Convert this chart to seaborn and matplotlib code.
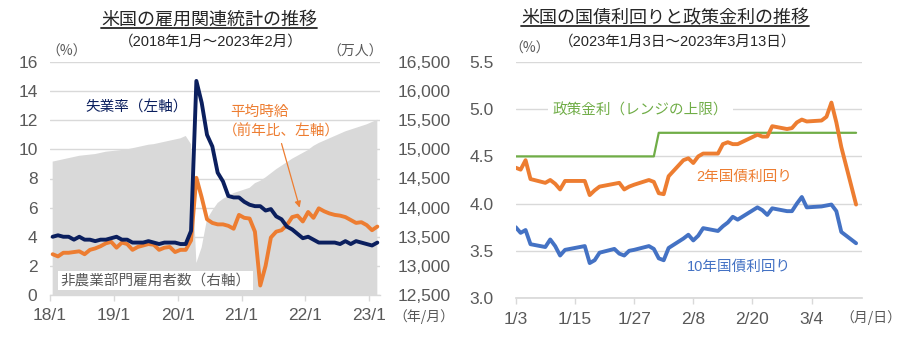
import numpy as np
import pandas as pd
import matplotlib
matplotlib.use("Agg")
import matplotlib.pyplot as plt
import seaborn as sns
from matplotlib.lines import Line2D
from matplotlib.ticker import FixedLocator, FuncFormatter
import matplotlib.dates as mdates

# ---------------- data: left chart (monthly, 2018/1 - 2023/2) ----------------
months = pd.period_range("2018-01", "2023-02", freq="M").astype(str).tolist()
unemployment = [
    4.0, 4.1, 4.0, 4.0, 3.8, 4.0, 3.8, 3.8, 3.7, 3.8, 3.8, 3.9,
    4.0, 3.8, 3.8, 3.6, 3.6, 3.6, 3.7, 3.6, 3.5, 3.6, 3.6, 3.6,
    3.5, 3.5, 4.4, 14.7, 13.2, 11.0, 10.2, 8.4, 7.8, 6.8, 6.7, 6.7,
    6.4, 6.2, 6.1, 6.1, 5.8, 5.9, 5.4, 5.2, 4.7, 4.5, 4.2, 3.9,
    4.0, 3.8, 3.6, 3.6, 3.6, 3.6, 3.5, 3.7, 3.5, 3.7, 3.6, 3.5,
    3.4, 3.6,
]
hourly_wage_yoy = [
    2.8, 2.65, 2.9, 2.9, 2.95, 3.0, 2.8, 3.1, 3.2, 3.35, 3.55, 3.65,
    3.25, 3.6, 3.5, 3.1, 3.3, 3.4, 3.5, 3.45, 3.1, 3.25, 3.3, 2.95,
    3.1, 3.1, 3.75, 8.05, 6.7, 5.2, 4.95, 4.85, 4.85, 4.75, 4.55, 5.5,
    5.3, 5.25, 4.35, 0.65, 2.0, 3.95, 4.35, 4.45, 4.8, 5.35, 5.45, 5.05,
    5.7, 5.3, 5.95, 5.75, 5.6, 5.5, 5.45, 5.35, 5.15, 4.95, 5.0, 4.8,
    4.45, 4.7,
]
payrolls = [
    14790, 14810, 14830, 14850, 14870, 14890, 14900, 14910, 14920, 14940, 14960, 14970,
    14980, 14990, 15000, 15020, 15040, 15060, 15080, 15090, 15110, 15130, 15150, 15170,
    15190, 15230, 15090, 13050, 13320, 13800, 13950, 14080, 14150, 14200, 14250, 14280,
    14310, 14340, 14420, 14460, 14520, 14590, 14660, 14720, 14780, 14840, 14890, 14940,
    14990, 15060, 15110, 15150, 15190, 15230, 15270, 15310, 15340, 15370, 15400, 15430,
    15470, 15510,
]
left_xticklabels = ["18/1", "19/1", "20/1", "21/1", "22/1", "23/1"]

# ---------------- data: right chart (daily, 2023/1/3 - 2023/3/13) ----------------
trade_dates = [
    "2023-01-03", "2023-01-04", "2023-01-05", "2023-01-06", "2023-01-09", "2023-01-10",
    "2023-01-11", "2023-01-12", "2023-01-13", "2023-01-17", "2023-01-18", "2023-01-19",
    "2023-01-20", "2023-01-23", "2023-01-24", "2023-01-25", "2023-01-26", "2023-01-27",
    "2023-01-30", "2023-01-31",
    "2023-02-01", "2023-02-02", "2023-02-03", "2023-02-06", "2023-02-07", "2023-02-08",
    "2023-02-09", "2023-02-10", "2023-02-13", "2023-02-14", "2023-02-15", "2023-02-16",
    "2023-02-17", "2023-02-21", "2023-02-22", "2023-02-23", "2023-02-24", "2023-02-27",
    "2023-02-28",
    "2023-03-01", "2023-03-02", "2023-03-03", "2023-03-06", "2023-03-07", "2023-03-08",
    "2023-03-09", "2023-03-10", "2023-03-13",
]
yield_2y = [
    4.38, 4.36, 4.46, 4.26, 4.22, 4.25, 4.21, 4.15, 4.24, 4.24, 4.09, 4.14,
    4.18, 4.21, 4.22, 4.15, 4.18, 4.20, 4.25, 4.23,
    4.11, 4.10, 4.29, 4.46, 4.48, 4.43, 4.50, 4.53, 4.53, 4.63, 4.65, 4.63,
    4.63, 4.73, 4.71, 4.71, 4.82, 4.79, 4.80,
    4.86, 4.89, 4.87, 4.88, 4.92, 5.07, 4.86, 4.60, 3.99,
]
yield_10y = [
    3.75, 3.69, 3.72, 3.57, 3.54, 3.62, 3.55, 3.45, 3.51, 3.55, 3.37, 3.40,
    3.48, 3.52, 3.47, 3.45, 3.50, 3.51, 3.55, 3.52,
    3.42, 3.40, 3.53, 3.63, 3.67, 3.61, 3.66, 3.74, 3.71, 3.76, 3.80, 3.86,
    3.83, 3.96, 3.93, 3.88, 3.95, 3.92, 3.92,
    4.00, 4.07, 3.96, 3.97, 3.98, 3.99, 3.92, 3.70, 3.58,
]
policy_rate = [4.50] * 20 + [4.75] * 28
right_xticklabels = ["1/3", "1/15", "1/27", "2/8", "2/20", "3/4"]

# ---------------- style ----------------
sns.set_theme(style="white")
plt.rcParams['font.family'] = ['Liberation Sans', 'Noto Sans CJK JP', 'DejaVu Sans']
CJK = ['Noto Sans CJK JP', 'DejaVu Sans']
MIX = ['Liberation Sans', 'Noto Sans CJK JP', 'DejaVu Sans']

NAVY = "#0B1F5E"
ORANGE = "#ED7D31"
BLUE = "#4472C4"
GREEN = "#70AD47"
AREA = "#D9D9D9"
GRID = "#D9D9D9"
TICK = "#595959"
TITLE = "#262626"

fig = plt.figure(figsize=(9, 3.4), dpi=100)

# ---------------- left chart ----------------
axL = fig.add_axes([50 / 900, 1 - 295 / 340, 330 / 900, 233 / 340])
axL2 = axL.twinx()

dfL = pd.DataFrame({"month": months, "unemp": unemployment,
                    "wage": hourly_wage_yoy, "payrolls": payrolls})
dfL["pos"] = np.arange(len(dfL)) + 0.5

axL2.fill_between(dfL["pos"], 0, dfL["payrolls"], color=AREA, lw=0, zorder=2)
axL2.set_ylim(12500, 16500)
axL2.yaxis.set_major_locator(FixedLocator(np.arange(12500, 16501, 500)))
axL2.yaxis.set_major_formatter(FuncFormatter(lambda v, p: f"{int(v):,}"))
axL2.set_axisbelow(True)
axL2.yaxis.grid(True, color=GRID, lw=1)
axL2.xaxis.grid(False)

axL.set_zorder(axL2.get_zorder() + 1)
axL.patch.set_visible(False)
sns.lineplot(data=dfL, x="pos", y="wage", ax=axL, color=ORANGE, lw=2.8)
sns.lineplot(data=dfL, x="pos", y="unemp", ax=axL, color=NAVY, lw=2.8)
axL.set_xlim(0, 62)
axL.set_ylim(0, 16)
axL.yaxis.set_major_locator(FixedLocator(np.arange(0, 17, 2)))
axL.yaxis.set_major_formatter(FuncFormatter(lambda v, p: f"{int(v)}"))
axL.xaxis.set_major_locator(FixedLocator(np.arange(0, 61, 12)))
axL.set_xticklabels(left_xticklabels)
axL.set_xlabel("")
axL.set_ylabel("")
axL.grid(False)

for a in (axL, axL2):
    for s in a.spines.values():
        s.set_visible(False)
axL.spines["bottom"].set_visible(True)
axL.spines["bottom"].set_color(GRID)
axL.spines["bottom"].set_linewidth(1)

axL.tick_params(axis="y", length=0, pad=9, labelsize=12.5, labelcolor=TICK, left=False)
axL2.tick_params(axis="y", length=0, pad=13, labelsize=12.5, labelcolor=TICK, right=False)
axL.tick_params(axis="x", bottom=True, length=4, width=1, color=GRID, pad=5,
                labelsize=12.5, labelcolor=TICK, direction="out")

axL.text(16.2, 12.85, "失業率（左軸）", color=NAVY, fontsize=10.5, family=CJK,
         ha="center", va="center")
axL.text(33.8, 12.55, "平均時給", color=ORANGE, fontsize=10.5, family=CJK,
         ha="left", va="center")
axL.text(32.5, 11.2, "（前年比、左軸）", color=ORANGE, fontsize=10.5, family=CJK,
         ha="left", va="center")
axL.annotate("", xy=(46.9, 6.0), xytext=(43.5, 10.4),
             arrowprops=dict(arrowstyle="-|>", color=ORANGE, lw=0.9,
                             mutation_scale=9, shrinkA=0, shrinkB=0))
axL.text(2.0, 1.0, "非農業部門雇用者数（右軸）", color=TICK, fontsize=10.5, family=CJK,
         ha="left", va="center",
         bbox=dict(boxstyle="square,pad=0.15", fc="white", ec="none"))

# ---------------- right chart ----------------
axR = fig.add_axes([515.7 / 900, 1 - 298 / 340, 346.3 / 900, 236 / 340])
dfR = pd.DataFrame({"date": pd.to_datetime(trade_dates), "y2": yield_2y,
                    "y10": yield_10y, "policy": policy_rate})
sns.lineplot(data=dfR, x="date", y="policy", ax=axR, color=GREEN, lw=1.6)
sns.lineplot(data=dfR, x="date", y="y2", ax=axR, color=ORANGE, lw=2.8)
sns.lineplot(data=dfR, x="date", y="y10", ax=axR, color=BLUE, lw=2.8)

start = pd.Timestamp("2023-01-03")
axR.set_xlim(mdates.date2num(start), mdates.date2num(start) + 70.2)
axR.set_ylim(3.0, 5.5)
tick_dates = [start + pd.Timedelta(days=12 * k) for k in range(6)]
axR.xaxis.set_major_locator(FixedLocator(mdates.date2num(tick_dates)))
axR.set_xticklabels(right_xticklabels)
axR.yaxis.set_major_locator(FixedLocator([3.0, 3.5, 4.0, 4.5, 5.0, 5.5]))
axR.yaxis.set_major_formatter(FuncFormatter(lambda v, p: f"{v:.1f}"))
axR.set_xlabel("")
axR.set_ylabel("")
axR.set_axisbelow(True)
axR.yaxis.grid(True, color=GRID, lw=1)
axR.xaxis.grid(False)
for s in axR.spines.values():
    s.set_visible(False)
axR.spines["bottom"].set_visible(True)
axR.spines["bottom"].set_color(GRID)
axR.tick_params(axis="y", length=0, pad=16, labelsize=12.5, labelcolor=TICK, left=False)
axR.tick_params(axis="x", bottom=True, length=4, width=1, color=GRID, pad=6,
                labelsize=12.5, labelcolor=TICK, direction="out")

d0 = mdates.date2num(start)
axR.text(d0 + 7.5, 4.99, "政策金利（レンジの上限）", color=GREEN, fontsize=10.5,
         family=CJK, ha="left", va="center",
         bbox=dict(boxstyle="square,pad=0.3", fc="white", ec="none"))
axR.text(d0 + 36.6, 4.28, "2年国債利回り", color=ORANGE, fontsize=10.5, family=MIX,
         ha="left", va="center")
axR.text(d0 + 34.8, 3.33, "10年国債利回り", color=BLUE, fontsize=10.5, family=MIX,
         ha="left", va="center")

# ---------------- titles & unit labels ----------------
def ftext(px, py, s, **kw):
    return fig.text(px / 900, 1 - py / 340, s, **kw)

tL = ftext(209, 20, "米国の雇用関連統計の推移", fontsize=13, family=CJK, color=TITLE,
           ha="center", va="center")
tR = ftext(665, 18, "米国の国債利回りと政策金利の推移", fontsize=13, family=CJK,
           color=TITLE, ha="center", va="center")
ftext(211, 42, "（2018年1月～2023年2月）", fontsize=10.5, family=MIX, color=TITLE,
      ha="center", va="center")
ftext(678, 42, "（2023年1月3日～2023年3月13日）", fontsize=10.5, family=MIX, color=TITLE,
      ha="center", va="center")
ftext(67, 52, "（%）", fontsize=10, family=CJK, color=TICK, ha="center", va="center")
ftext(355, 52, "（万人）", fontsize=10, family=CJK, color=TICK, ha="center", va="center")
ftext(424, 317, "（年/月）", fontsize=10, family=CJK, color=TICK, ha="center", va="center")
ftext(530, 49, "（%）", fontsize=10, family=CJK, color=TICK, ha="center", va="center")
ftext(871, 318, "（月/日）", fontsize=10, family=CJK, color=TICK, ha="center", va="center")

fig.canvas.draw()
renderer = fig.canvas.get_renderer()
for t in (tL, tR):
    bb = t.get_window_extent(renderer)
    yl = bb.y0 + 1
    fig.add_artist(Line2D([bb.x0 / fig.bbox.width, bb.x1 / fig.bbox.width],
                          [yl / fig.bbox.height, yl / fig.bbox.height],
                          transform=fig.transFigure, color=TITLE, lw=1.3))

fig.savefig("out.png", dpi=100)
